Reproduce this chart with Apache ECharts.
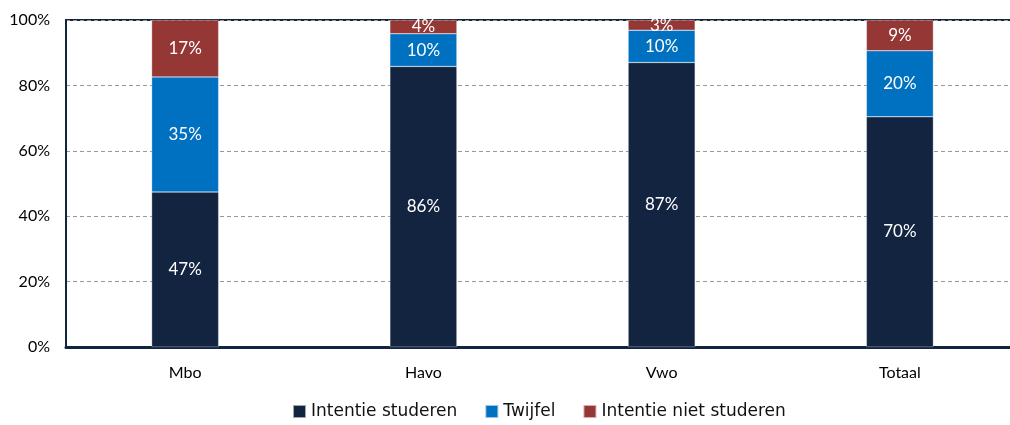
<!DOCTYPE html>
<html>
<head>
<meta charset="utf-8">
<script src="https://cdn.jsdelivr.net/npm/echarts@6/dist/echarts.min.js"></script>
<style>
  html, body { margin: 0; padding: 0; background: #fff; }
  #chart { width: 1010px; height: 425px; }
</style>
</head>
<body>
<div id="chart"></div>
<script>
    let categories = ["Mbo", "Havo", "Vwo", "Totaal"],
        seriesNames = ["Intentie studeren", "Twijfel", "Intentie niet studeren"],
        studeren = [47.4, 85.8, 87.0, 70.4],
        twijfel = [35.2, 10.0, 9.9, 20.2],
        nietStuderen = [17.4, 4.2, 3.1, 9.4],
        yTicks = [0, 20, 40, 60, 80, 100],
        colors = ["#12243f", "#0070c0", "#953735"];

    let chart = echarts.init(document.getElementById("chart"));

    function makeSeries(name, data, color) {
        return {
            name: name,
            type: "bar",
            stack: "total",
            barWidth: 67,
            data: data,
            itemStyle: {
                color: color,
                borderColor: "rgba(255,255,255,0.6)",
                borderWidth: 0.5
            },
            label: {
                show: true,
                position: "inside",
                color: "#fff",
                fontFamily: "Lato",
                fontSize: 17,
                formatter: function(p) {
                    return Math.round(p.value) + "%";
                }
            }
        };
    }

    let option = {
        animation: false,
        grid: {
            left: 66,
            top: 20,
            width: 953,
            height: 327,
            outerBoundsMode: "none",
            containLabel: false,
            show: true,
            borderColor: "#12243f",
            borderWidth: 2,
            backgroundColor: "#fff"
        },
        legend: {
            bottom: 0,
            left: 287,
            itemWidth: 13,
            itemHeight: 13,
            itemGap: 27,
            icon: "rect",
            textStyle: {
                fontFamily: "DejaVu Sans",
                fontSize: 17,
                color: "#111"
            },
            data: seriesNames
        },
        xAxis: {
            type: "category",
            data: categories,
            axisLine: { lineStyle: { color: "#12243f", width: 3 } },
            axisTick: { show: false },
            axisLabel: {
                margin: 18,
                fontFamily: "Lato",
                fontSize: 16,
                color: "#000"
            }
        },
        yAxis: {
            type: "value",
            min: yTicks[0],
            max: yTicks[yTicks.length - 1],
            interval: 20,
            axisLine: { show: true, lineStyle: { color: "#12243f", width: 2 } },
            axisTick: { show: false },
            axisLabel: {
                margin: 16,
                fontFamily: "Lato",
                fontSize: 16,
                color: "#000",
                formatter: "{value}%"
            },
            splitLine: {
                lineStyle: { color: "#999", type: [4, 3], width: 1 }
            }
        },
        series: [
            makeSeries(seriesNames[0], studeren, colors[0]),
            makeSeries(seriesNames[1], twijfel, colors[1]),
            makeSeries(seriesNames[2], nietStuderen, colors[2])
        ]
    };

    chart.setOption(option);
</script>
</body>
</html>
